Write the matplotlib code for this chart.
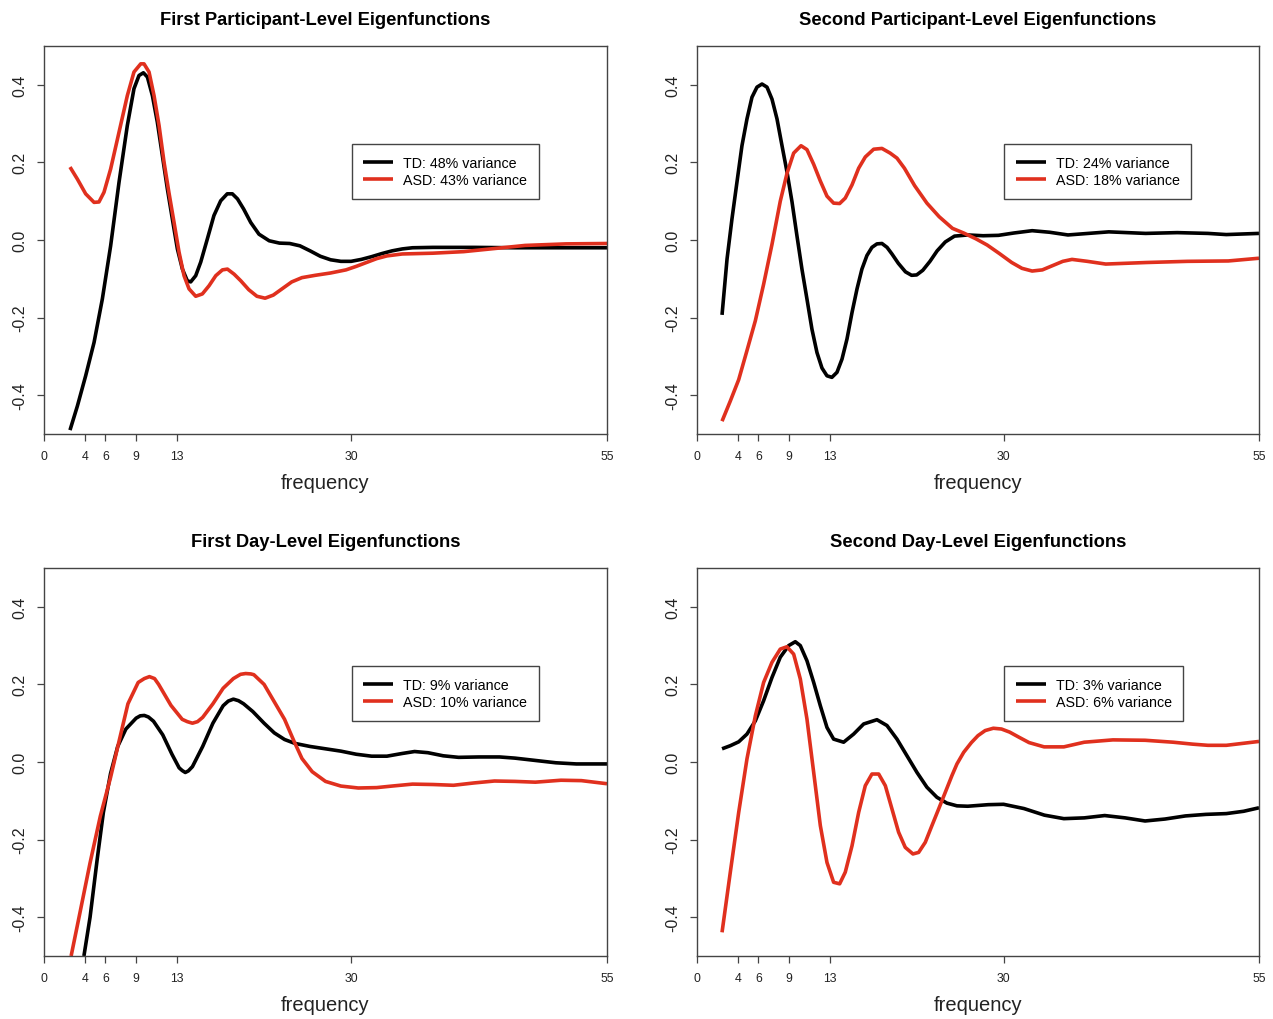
import numpy as np
import matplotlib.pyplot as plt

plt.rcParams['font.family'] = ['Liberation Sans', 'DejaVu Sans']

titles = ["First Participant-Level Eigenfunctions",
          "Second Participant-Level Eigenfunctions",
          "First Day-Level Eigenfunctions",
          "Second Day-Level Eigenfunctions"]
td_labels = ["TD: 48% variance", "TD: 24% variance", "TD: 9% variance", "TD: 3% variance"]
asd_labels = ["ASD: 43% variance", "ASD: 18% variance", "ASD: 10% variance", "ASD: 6% variance"]
xticks = [0, 4, 6, 9, 13, 30, 55]
yticks = [-0.4, -0.2, 0.0, 0.2, 0.4]
ytick_labels = ["-0.4", "-0.2", "0.0", "0.2", "0.4"]

# first participant-level
p1_td_f = [2.54, 3.26, 4.07, 4.89, 5.7, 6.51, 7.33, 8.14, 8.79, 9.28, 9.71, 10.1, 10.59, 11.07,
           11.56, 12.05, 12.54, 13.03, 13.52, 14.0, 14.33, 14.82, 15.31, 15.96, 16.6, 17.26,
           17.9, 18.4, 18.9, 19.5, 20.2, 21, 22, 23, 24, 25, 26, 27, 28, 29, 30, 31, 32, 33,
           34, 35, 36, 38, 42, 46, 50, 55]
p1_td_v = [-0.49, -0.428, -0.35, -0.264, -0.152, -0.015, 0.149, 0.295, 0.39, 0.424, 0.431, 0.42,
           0.372, 0.304, 0.218, 0.132, 0.054, -0.023, -0.075, -0.105, -0.108, -0.092, -0.057,
           0.003, 0.063, 0.101, 0.119, 0.119, 0.106, 0.08, 0.045, 0.015, -0.002, -0.008,
           -0.009, -0.015, -0.028, -0.042, -0.051, -0.055, -0.055, -0.05, -0.043, -0.035,
           -0.028, -0.023, -0.02, -0.019, -0.019, -0.02, -0.02, -0.02]
p1_asd_f = [2.54, 3.26, 4.07, 4.89, 5.37, 5.86, 6.51, 7.33, 8.14, 8.79, 9.45, 9.77, 10.26, 10.75,
            11.24, 11.73, 12.2, 12.7, 13.19, 13.68, 14.17, 14.82, 15.47, 16.12, 16.78, 17.43,
            17.92, 18.57, 19.22, 20, 20.8, 21.6, 22.4, 23.3, 24.2, 25.2, 26.5, 28, 29.5, 30.5,
            31.5, 32.5, 33.5, 35, 38, 41, 44, 47, 51, 55]
p1_asd_v = [0.188, 0.157, 0.119, 0.097, 0.098, 0.123, 0.183, 0.278, 0.372, 0.433, 0.454, 0.454,
            0.433, 0.372, 0.295, 0.2, 0.123, 0.046, -0.031, -0.092, -0.126, -0.145, -0.139,
            -0.118, -0.092, -0.077, -0.075, -0.088, -0.105, -0.128, -0.145, -0.15, -0.142,
            -0.125, -0.108, -0.097, -0.091, -0.085, -0.077, -0.068, -0.058, -0.048, -0.041,
            -0.036, -0.034, -0.03, -0.022, -0.014, -0.01, -0.009]

# second participant-level
p2_td_f = [2.45, 2.94, 3.42, 3.91, 4.4, 4.89, 5.38, 5.87, 6.36, 6.85, 7.34, 7.83, 8.32, 8.81,
           9.3, 9.78, 10.27, 10.76, 11.25, 11.74, 12.23, 12.72, 13.2, 13.7, 14.19, 14.68, 15.17,
           15.66, 16.14, 16.63, 17.12, 17.61, 18.1, 18.6, 19.08, 19.7, 20.4, 21.0, 21.5, 22.1,
           22.8, 23.5, 24.3, 25.2, 26.5, 28, 29.5, 31, 32.8, 34.5, 36.3, 38.3, 40.3, 43.9, 47,
           50, 51.8, 55]
p2_td_v = [-0.193, -0.049, 0.054, 0.149, 0.243, 0.312, 0.368, 0.394, 0.402, 0.394, 0.363, 0.312,
           0.243, 0.175, 0.098, 0.011, -0.075, -0.152, -0.23, -0.29, -0.33, -0.35, -0.354,
           -0.341, -0.307, -0.255, -0.187, -0.126, -0.075, -0.04, -0.019, -0.01, -0.009,
           -0.019, -0.036, -0.06, -0.082, -0.091, -0.09, -0.078, -0.055, -0.028, -0.005, 0.01,
           0.013, 0.011, 0.012, 0.018, 0.024, 0.02, 0.013, 0.017, 0.021, 0.017, 0.019, 0.017,
           0.014, 0.017]
p2_asd_f = [2.45, 3.26, 4.08, 4.89, 5.71, 6.52, 7.34, 8.15, 8.81, 9.46, 10.18, 10.76, 11.42,
            12.07, 12.72, 13.37, 13.96, 14.51, 15.17, 15.82, 16.47, 17.29, 18.1, 18.9, 19.57,
            20.3, 21.3, 22.5, 23.7, 25, 26.1, 27.3, 28.4, 29.6, 30.8, 31.8, 32.8, 33.8, 34.8,
            35.8, 36.7, 38.2, 40, 42, 44, 48, 52, 55]
p2_asd_v = [-0.467, -0.415, -0.36, -0.285, -0.208, -0.114, -0.011, 0.1, 0.172, 0.224, 0.243,
            0.233, 0.195, 0.152, 0.113, 0.095, 0.094, 0.108, 0.142, 0.185, 0.214, 0.234, 0.236,
            0.224, 0.211, 0.185, 0.14, 0.095, 0.06, 0.03, 0.018, 0.003, -0.013, -0.035, -0.058,
            -0.073, -0.08, -0.077, -0.066, -0.055, -0.05, -0.055, -0.062, -0.06, -0.058,
            -0.055, -0.054, -0.047]

# first day-level
p3_td_f = [3.9, 4.5, 5.2, 5.8, 6.5, 7.2, 8.0, 9.0, 9.4, 9.8, 10.2, 10.7, 11.6, 12.5, 13.2, 13.5,
           13.8, 14.1, 14.5, 15.5, 16.5, 17.5, 18.0, 18.5, 19.0, 19.5, 20.4, 21.5, 22.5, 23.5,
           24.5, 26, 27.5, 29, 30.5, 32, 33.5, 35, 36.2, 37.5, 39, 40.5, 42.5, 44.5, 46, 48, 50,
           52, 55]
p3_td_v = [-0.5, -0.4, -0.25, -0.13, -0.03, 0.04, 0.085, 0.113, 0.119, 0.12, 0.116, 0.105, 0.07,
           0.02, -0.015, -0.022, -0.027, -0.023, -0.012, 0.04, 0.1, 0.145, 0.157, 0.162, 0.158,
           0.15, 0.13, 0.1, 0.075, 0.058, 0.048, 0.04, 0.034, 0.028, 0.02, 0.015, 0.015, 0.022,
           0.027, 0.024, 0.016, 0.012, 0.013, 0.013, 0.01, 0.004, -0.002, -0.005, -0.005]
p3_asd_f = [2.65, 3.5, 4.5, 5.5, 6.5, 7.3, 8.2, 9.2, 9.8, 10.3, 10.8, 11.2, 12.4, 13.5, 14.0,
            14.5, 15.0, 15.5, 16.5, 17.5, 18.5, 19.2, 19.7, 20.2, 20.5, 21.5, 22.5, 23.5, 24.4,
            25.2, 26.2, 27.5, 29, 30.7, 32.5, 34, 36, 38, 40, 42, 44, 46, 48, 50.5, 52.5, 55]
p3_asd_v = [-0.5, -0.39, -0.26, -0.14, -0.04, 0.05, 0.15, 0.205, 0.215, 0.22, 0.215, 0.2, 0.146,
            0.11, 0.104, 0.1, 0.104, 0.115, 0.15, 0.19, 0.215, 0.226, 0.228, 0.227, 0.225, 0.2,
            0.155, 0.11, 0.055, 0.009, -0.025, -0.05, -0.062, -0.067, -0.066, -0.062, -0.057,
            -0.058, -0.06, -0.054, -0.049, -0.05, -0.052, -0.047, -0.048, -0.056]

# second day-level
p4_td_f = [2.45, 3.26, 4.08, 4.89, 5.71, 6.52, 7.34, 8.15, 8.97, 9.62, 10.11, 10.76, 11.42,
           12.07, 12.72, 13.37, 14.35, 15.33, 16.31, 17.61, 18.59, 19.57, 20.55, 21.53, 22.5,
           23.48, 24.46, 25.44, 26.5, 27.5, 28.5, 30, 32, 34, 35.9, 37.9, 39.9, 41.9, 43.85,
           45.8, 47.8, 49.8, 51.8, 53.5, 55]
p4_td_v = [0.034, 0.042, 0.052, 0.072, 0.106, 0.158, 0.218, 0.27, 0.3, 0.31, 0.3, 0.261, 0.205,
           0.145, 0.089, 0.059, 0.051, 0.072, 0.098, 0.109, 0.094, 0.059, 0.016, -0.027,
           -0.065, -0.091, -0.106, -0.113, -0.114, -0.112, -0.11, -0.109, -0.12, -0.137,
           -0.146, -0.144, -0.138, -0.144, -0.152, -0.147, -0.139, -0.135, -0.133, -0.127,
           -0.118]
p4_asd_f = [2.45, 3.26, 4.08, 4.89, 5.71, 6.52, 7.34, 8.15, 8.8, 9.46, 10.11, 10.76, 11.42,
            12.07, 12.72, 13.37, 13.96, 14.51, 15.17, 15.82, 16.47, 17.12, 17.78, 18.43, 19.08,
            19.73, 20.38, 21.13, 21.69, 22.34, 22.99, 23.65, 24.3, 24.95, 25.44, 26.1, 26.85,
            27.5, 28.2, 29.0, 29.8, 30.6, 31.5, 32.5, 33.97, 35.9, 37.9, 40.7, 43.85, 46.6,
            48.5, 50, 51.8, 55]
p4_asd_v = [-0.439, -0.284, -0.13, 0.008, 0.119, 0.205, 0.257, 0.291, 0.297, 0.278, 0.214,
            0.111, -0.027, -0.164, -0.259, -0.31, -0.314, -0.284, -0.216, -0.13, -0.061, -0.031,
            -0.031, -0.061, -0.121, -0.181, -0.22, -0.237, -0.233, -0.207, -0.164, -0.121,
            -0.078, -0.035, -0.005, 0.025, 0.05, 0.068, 0.081, 0.087, 0.085, 0.077, 0.064, 0.05,
            0.039, 0.039, 0.051, 0.057, 0.056, 0.051, 0.046, 0.043, 0.043, 0.053]

td_data = [(p1_td_f, p1_td_v), (p2_td_f, p2_td_v), (p3_td_f, p3_td_v), (p4_td_f, p4_td_v)]
asd_data = [(p1_asd_f, p1_asd_v), (p2_asd_f, p2_asd_v), (p3_asd_f, p3_asd_v), (p4_asd_f, p4_asd_v)]

W, H = 1273, 1020
# axes boxes in pixels: left, top, right, bottom
boxes = [(44, 47, 607, 435), (697, 47, 1259, 435),
         (44, 569, 607, 957), (697, 569, 1259, 957)]

red = '#E0301E'
axcol = '#444444'

fig = plt.figure(figsize=(W / 100, H / 100), dpi=100)

for k in range(4):
    l, t, r, b = boxes[k]
    ax = fig.add_axes([l / W, 1 - b / H, (r - l) / W, (b - t) / H])
    ax.plot(td_data[k][0], td_data[k][1], color='black', lw=2.6, label=td_labels[k],
            solid_capstyle='butt', solid_joinstyle='round')
    ax.plot(asd_data[k][0], asd_data[k][1], color=red, lw=2.6, label=asd_labels[k],
            solid_capstyle='butt', solid_joinstyle='round')
    ax.set_xlim(0, 55)
    ax.set_ylim(-0.5, 0.5)
    ax.set_xticks(xticks)
    ax.set_xticklabels([str(x) for x in xticks], fontsize=8.8)
    ax.set_yticks(yticks)
    ax.set_yticklabels(ytick_labels, rotation=90, va='center', fontsize=11.5)
    ax.tick_params(axis='both', direction='out', length=4.7, width=0.9, color=axcol,
                   labelcolor='#222222')
    ax.tick_params(axis='x', pad=7)
    ax.tick_params(axis='y', pad=7)
    for sp in ax.spines.values():
        sp.set_color(axcol)
        sp.set_linewidth(1.0)
    ax.set_xlabel('frequency', fontsize=14.5, labelpad=8, color='#222222')
    ax.set_title(titles[k], fontsize=13.2, fontweight='bold', pad=16)
    leg = ax.legend(loc='upper left', bbox_to_anchor=(0.547, 0.747), borderaxespad=0,
                    fontsize=10.3, handlelength=2.1, handletextpad=0.7, borderpad=0.8,
                    labelspacing=0.25, fancybox=False, framealpha=1, edgecolor=axcol)
    leg.get_frame().set_linewidth(1.0)

plt.savefig('out.png', dpi=100)
